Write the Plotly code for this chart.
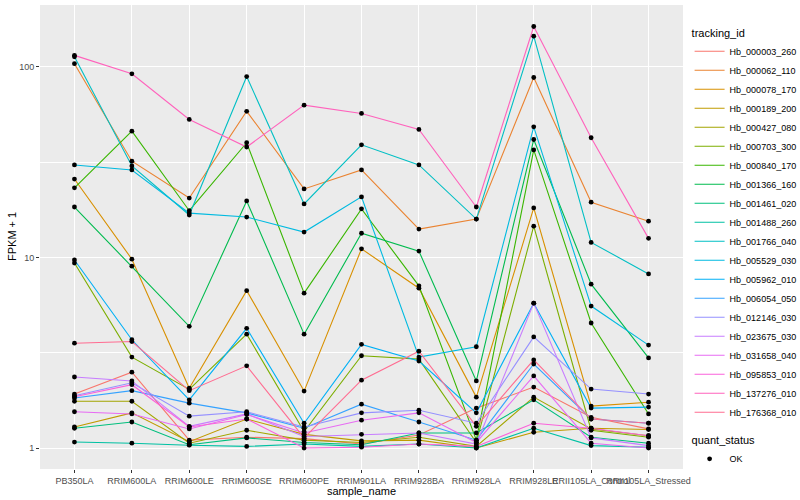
import plotly.graph_objects as go

samples = ["PB350LA", "RRIM600LA", "RRIM600LE", "RRIM600SE", "RRIM600PE", "RRIM901LA",
           "RRIM928BA", "RRIM928LA", "RRIM928LE", "RRII105LA_Control", "RRII105LA_Stressed"]

tracking_ids = ["Hb_000003_260", "Hb_000062_110", "Hb_000078_170", "Hb_000189_200", "Hb_000427_080",
                "Hb_000703_300", "Hb_000840_170", "Hb_001366_160", "Hb_001461_020", "Hb_001488_260",
                "Hb_001766_040", "Hb_005529_030", "Hb_005962_010", "Hb_006054_050", "Hb_012146_030",
                "Hb_023675_030", "Hb_031658_040", "Hb_095853_010", "Hb_137276_010", "Hb_176368_010"]

colors = ["#F8766D", "#EA8331", "#D89000", "#C09B00", "#A3A500", "#7CAE00", "#39B600", "#00BB4E",
          "#00BF7D", "#00C1A3", "#00BFC4", "#00BAE0", "#00B0F6", "#35A2FF", "#9590FF", "#C77CFF",
          "#E76BF3", "#FA62DB", "#FF62BC", "#FF6C91"]

# FPKM + 1 per sample, in the order of `samples`
hb_000003_260 = [1.92, 2.5, 1.10, 1.14, 1.12, 1.05, 1.17, 1.62, 2.09, 1.45, 1.26]
hb_000062_110 = [104, 32, 20.5, 58.5, 22.9, 28.8, 14.1, 15.9, 88, 19.5, 15.5]
hb_000078_170 = [25.8, 9.8, 2.06, 6.7, 1.99, 11.1, 6.9, 1.85, 18.2, 1.66, 1.74]
hb_000189_200 = [1.29, 1.53, 1.08, 1.42, 1.18, 1.09, 1.10, 1.0, 1.21, 1.27, 1.25]
hb_000427_080 = [1.76, 1.76, 1.06, 1.24, 1.10, 1.07, 1.14, 1.02, 1.85, 1.26, 1.16]
hb_000703_300 = [9.35, 3.0, 2.03, 3.96, 1.22, 3.05, 2.93, 1.07, 14.6, 1.24, 1.14]
hb_000840_170 = [23.2, 46, 17.6, 40, 6.5, 18.0, 7.1, 1.1, 36.7, 4.53, 1.51]
hb_001366_160 = [18.4, 9.0, 4.35, 19.8, 3.96, 13.4, 10.8, 2.25, 41.6, 7.24, 2.97]
hb_001461_020 = [1.27, 1.37, 1.04, 1.13, 1.07, 1.04, 1.2, 1.2, 1.79, 1.14, 1.06]
hb_001488_260 = [1.075, 1.06, 1.035, 1.02, 1.05, 1.02, 1.05, 1.0, 1.27, 1.03, 1.01]
hb_001766_040 = [113, 30.2, 16.7, 89, 19.1, 39, 30.6, 15.9, 145, 12.0, 8.2]
hb_005529_030 = [30.6, 28.8, 17.1, 16.3, 13.6, 20.8, 3.0, 3.4, 48.5, 5.56, 3.47]
hb_005962_010 = [9.7, 3.7, 1.79, 4.25, 1.35, 3.5, 2.86, 1.53, 5.76, 1.62, 1.64]
hb_006054_050 = [1.83, 2.0, 1.72, 1.53, 1.27, 1.70, 1.37, 1.1, 2.76, 1.42, 1.35]
hb_012146_030 = [1.88, 2.2, 1.47, 1.55, 1.29, 1.53, 1.58, 1.35, 3.83, 2.04, 1.92]
hb_023675_030 = [2.36, 2.25, 1.30, 1.51, 1.15, 1.18, 1.2, 1.05, 5.76, 1.13, 1.03]
hb_031658_040 = [1.55, 1.51, 1.26, 1.50, 1.2, 1.40, 1.53, 1.07, 2.39, 1.06, 1.0]
hb_095853_010 = [1.86, 2.15, 1.29, 1.42, 1.0, 1.01, 1.05, 1.02, 1.35, 1.27, 1.16]
hb_137276_010 = [115, 92, 53, 38, 63, 57, 47, 18.4, 163, 42.5, 12.6]
hb_176368_010 = [3.55, 3.62, 2.0, 2.7, 1.13, 2.27, 3.22, 1.3, 2.9, 1.42, 1.35]

series = [hb_000003_260, hb_000062_110, hb_000078_170, hb_000189_200, hb_000427_080,
          hb_000703_300, hb_000840_170, hb_001366_160, hb_001461_020, hb_001488_260,
          hb_001766_040, hb_005529_030, hb_005962_010, hb_006054_050, hb_012146_030,
          hb_023675_030, hb_031658_040, hb_095853_010, hb_137276_010, hb_176368_010]

FONT = "Liberation Sans"

fig = go.Figure()
for tid, vals, col in zip(tracking_ids, series, colors):
    fig.add_trace(go.Scatter(x=samples, y=vals, mode="lines", name=tid,
                             line=dict(color=col, width=1.1), legend="legend"))

pts_x = [s for vals in series for s in samples]
pts_y = [v for vals in series for v in vals]
fig.add_trace(go.Scatter(x=pts_x, y=pts_y, mode="markers", name="OK",
                         marker=dict(color="black", size=4.8, symbol="circle"),
                         legend="legend2"))

fig.update_layout(
    width=800, height=500,
    margin=dict(l=40, r=117, t=5, b=31),
    plot_bgcolor="#EBEBEB", paper_bgcolor="white",
    font=dict(family=FONT, size=9, color="black"),
    xaxis=dict(type="category", range=[-0.6, 10.6], showgrid=True, gridcolor="white",
               gridwidth=1.1, zeroline=False, ticks="outside", ticklen=3, tickcolor="#333333",
               tickangle=0, tickfont=dict(size=9, color="#4D4D4D", family=FONT),
               automargin=False),
    yaxis=dict(type="log", range=[-0.11, 2.325], tickvals=[1, 10, 100], ticktext=["1", "10", "100"],
               showgrid=True, gridcolor="white", gridwidth=1.1, zeroline=False,
               ticks="outside", ticklen=3, tickcolor="#333333",
               tickfont=dict(size=9, color="#4D4D4D", family=FONT),
               minor=dict(tickvals=[3.1623, 31.623], showgrid=True, gridcolor="white",
                          gridwidth=0.5, ticklen=0),
               automargin=False),
    annotations=[
        dict(text="sample_name", xref="paper", yref="paper", x=0.5, y=(469 - 491) / 464,
             xanchor="center", yanchor="middle", showarrow=False,
             font=dict(size=11, color="black", family=FONT)),
        dict(text="FPKM + 1", xref="paper", yref="paper", x=(12 - 40) / 643, y=0.5,
             xanchor="center", yanchor="middle", showarrow=False, textangle=-90,
             font=dict(size=11, color="black", family=FONT)),
    ],
    legend=dict(title=dict(text="tracking_id", font=dict(size=11, color="black")),
                font=dict(size=9, color="black"), xref="container", yref="container",
                x=0.862, y=0.955, xanchor="left", yanchor="top", bgcolor="rgba(0,0,0,0)",
                tracegroupgap=0, itemwidth=30, maxheight=440),
    legend2=dict(title=dict(text="quant_status", font=dict(size=11, color="black")),
                 font=dict(size=9, color="black"), xref="container", yref="container",
                 x=0.862, y=0.14, xanchor="left", yanchor="top", bgcolor="rgba(0,0,0,0)",
                 itemwidth=30),
    showlegend=True,
)

fig.write_html("out.html", config={"displayModeBar": False},
               post_script="document.body.style.margin='0';document.body.style.overflow='hidden';")
